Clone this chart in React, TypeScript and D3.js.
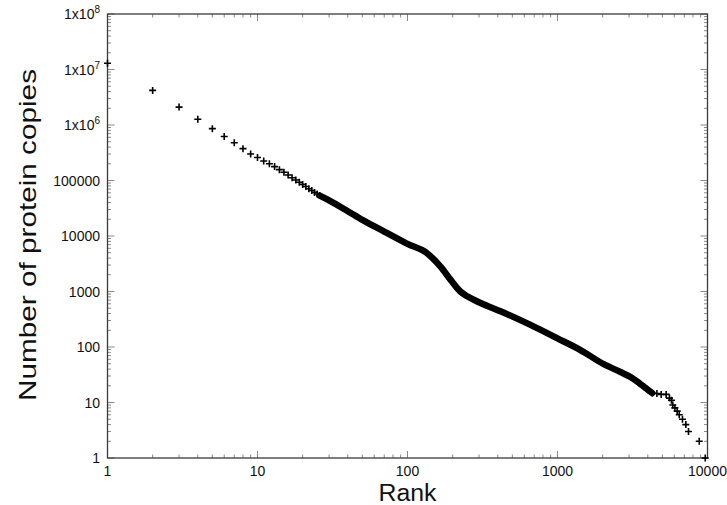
import * as d3 from "d3";
import { useEffect } from "react";

const W = 727;
const H = 505;
const margin = { top: 14, right: 19.5, bottom: 47, left: 107.5 };

// distinct markers at the high-abundance end (rank, copies)
const headRanks = [1, 2, 3, 4, 5, 6, 7, 8, 9, 10, 11, 12, 13, 14, 15, 16, 17, 18, 19, 20, 21, 22, 23, 24, 25, 26];
const headCopies = [
  1.3e7, 4.2e6, 2.1e6, 1.27e6, 8.6e5, 6.2e5, 4.8e5, 3.75e5, 3.0e5, 2.6e5, 2.25e5,
  2.0e5, 1.78e5, 1.57e5, 1.41e5, 1.26e5, 1.12e5, 1.02e5, 93000, 85000, 78000, 71000,
  66000, 61000, 57000, 53500,
];

// the dense part, where the crosses merge into one thick band
const bandRanks = [26, 30, 40, 50, 70, 100, 135, 166, 194, 225, 250, 277, 307, 417, 661, 1000, 1423, 2035, 2630, 3068, 3575, 4280];
const bandCopies = [53500, 44000, 28000, 19500, 12000, 7200, 4900, 2800, 1620, 1000, 820, 710, 620, 440, 250, 143, 88, 49, 35.4, 28.8, 21.5, 14.8];

// distinct markers at the low-abundance end
const tailRanks = [3800, 4050, 4280, 4600, 4910, 5300, 5580, 5750, 5870, 6060, 6280, 6480, 6810, 7170, 7470, 8810, 9660];
const tailCopies = [19, 16.5, 14.8, 14.5, 14, 14, 12, 11, 9, 8, 7, 6, 5, 4, 3, 2, 1];

const xTickValues = [1, 10, 100, 1000, 10000];
const xTickLabels = ["1", "10", "100", "1000", "10000"];
const yTickValues = [1, 10, 100, 1000, 10000, 100000, 1e6, 1e7, 1e8];
const yTickLabels = ["1", "10", "100", "1000", "10000", "100000", "1x10^6", "1x10^7", "1x10^8"];

const FONT = "'Liberation Sans', Arial, Helvetica, sans-serif";

const x = d3.scaleLog().domain([1, 10000]).range([margin.left, W - margin.right]);
const y = d3.scaleLog().domain([1, 1e8]).range([H - margin.bottom, margin.top]);

const minors = (domain: number[]) => {
  const out: number[] = [];
  for (let d = domain[0]; d < domain[1]; d *= 10) {
    for (let k = 2; k <= 9; k++) out.push(d * k);
  }
  return out;
};

const plus = "M-3.5,0H3.5M0,-3.5V3.5";

const Label = ({ text }: { text: string }) => {
  const [base, exp] = text.split("^");
  return (
    <>
      {base}
      {exp && (
        <tspan dy={-6} fontSize={10}>
          {exp}
        </tspan>
      )}
    </>
  );
};

export default function App() {
  useEffect(() => {
    document.body.style.margin = "0";
  }, []);

  const x0 = x.range()[0];
  const x1 = x.range()[1];
  const y0 = y.range()[0];
  const y1 = y.range()[1];

  const band = d3
    .line<number>()
    .x((i) => x(bandRanks[i]))
    .y((i) => y(bandCopies[i]))
    .curve(d3.curveMonotoneX);

  const xMinor = minors([1, 10000]);
  const yMinor = minors([1, 1e8]);

  return (
    <svg width={W} height={H} style={{ display: "block", background: "#fff" }} fontFamily={FONT}>
      {/* ticks, inward on all four sides */}
      <g stroke="#8a8a8a" strokeWidth={1}>
        {xMinor.map((v) => (
          <g key={"xm" + v}>
            <line x1={x(v)} x2={x(v)} y1={y0} y2={y0 - 3.5} />
            <line x1={x(v)} x2={x(v)} y1={y1} y2={y1 + 3.5} />
          </g>
        ))}
        {xTickValues.map((v) => (
          <g key={"xM" + v}>
            <line x1={x(v)} x2={x(v)} y1={y0} y2={y0 - 7} />
            <line x1={x(v)} x2={x(v)} y1={y1} y2={y1 + 7} />
          </g>
        ))}
        {yMinor.map((v) => (
          <g key={"ym" + v}>
            <line x1={x0} x2={x0 + 3.5} y1={y(v)} y2={y(v)} />
            <line x1={x1} x2={x1 - 3.5} y1={y(v)} y2={y(v)} />
          </g>
        ))}
        {yTickValues.map((v) => (
          <g key={"yM" + v}>
            <line x1={x0} x2={x0 + 7} y1={y(v)} y2={y(v)} />
            <line x1={x1} x2={x1 - 7} y1={y(v)} y2={y(v)} />
          </g>
        ))}
      </g>
      <rect x={x0} y={y1} width={x1 - x0} height={y0 - y1} fill="none" stroke="#3a3a3a" strokeWidth={1.3} />

      {/* tick labels */}
      <g fontSize={14} fill="#111">
        {xTickValues.map((v, i) => (
          <text key={"xl" + v} x={x(v)} y={y0 + 18} textAnchor="middle">
            {xTickLabels[i]}
          </text>
        ))}
        {yTickValues.map((v, i) => (
          <text key={"yl" + v} x={x0 - 7.5} y={y(v) + 5} textAnchor="end">
            <Label text={yTickLabels[i]} />
          </text>
        ))}
      </g>

      {/* axis titles */}
      <text x={(x0 + x1) / 2} y={501} textAnchor="middle" fontSize={23.5} fill="#111" textLength={58} lengthAdjust="spacingAndGlyphs">
        Rank
      </text>
      <text
        transform={`translate(36,235) rotate(-90)`}
        textAnchor="middle"
        fontSize={24.5}
        fill="#111"
        textLength={332}
        lengthAdjust="spacingAndGlyphs"
      >
        Number of protein copies
      </text>

      {/* data */}
      <path
        d={band(d3.range(bandRanks.length)) ?? ""}
        fill="none"
        stroke="#000"
        strokeWidth={6.5}
        strokeLinejoin="round"
        strokeLinecap="round"
      />
      <g stroke="#000" strokeWidth={1.6} fill="none">
        {headRanks.map((r, i) => (
          <path key={"h" + r} d={plus} transform={`translate(${x(r)},${y(headCopies[i])})`} />
        ))}
        {tailRanks.map((r, i) => (
          <path key={"t" + r} d={plus} transform={`translate(${x(r)},${y(tailCopies[i])})`} />
        ))}
      </g>
    </svg>
  );
}
